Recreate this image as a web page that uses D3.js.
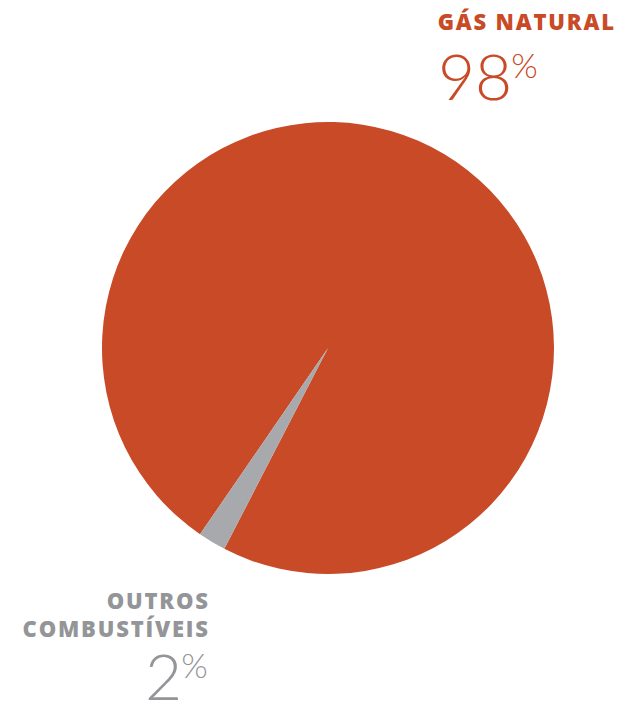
<!DOCTYPE html>
<html>
<head>
<meta charset="utf-8">
<script src="https://cdn.jsdelivr.net/npm/d3@7"></script>
<style>
  html, body { margin: 0; padding: 0; background: #fff; }
  svg { display: block; }
  .name { font-family: "Open Sans", Lato, sans-serif; font-weight: 800; font-size: 22px; letter-spacing: 1.8px; }
  .pct { font-family: Lato, "Open Sans", sans-serif; font-weight: 300; }
</style>
</head>
<body>
<svg id="chart" width="622" height="713"></svg>
<script>
// Fuel mix shares (percent)
const categories = ["GÁS NATURAL", "OUTROS COMBUSTÍVEIS"];
const shares = [98, 2];
const colors = ["#C94A26", "#A7A9AC"];
const textColors = ["#C94A26", "#939598"];

const svg = d3.select("#chart");
const cx = 328, cy = 348, radius = 226;

// Small slice sits lower-left; pie runs clockwise from its start
const start = 207.3 * Math.PI / 180;
const pie = d3.pie().sort(null)
  .startAngle(start - 2 * Math.PI * shares[0] / 100)
  .endAngle(start + 2 * Math.PI * shares[1] / 100);
const arc = d3.arc().innerRadius(0).outerRadius(radius);

const data = categories.map((c, i) => ({ name: c, value: shares[i], color: colors[i] }));

svg.append("g")
  .attr("transform", `translate(${cx},${cy})`)
  .selectAll("path")
  .data(pie.value(d => d.value)(data))
  .join("path")
  .attr("d", arc)
  .attr("fill", d => d.data.color);

// Labels (x offset compensates trailing letter-spacing)
function label(g, lines, value, color, x, y0, lineGap, numY, pctX) {
  lines.forEach((t, i) => {
    g.append("text").attr("class", "name")
      .attr("x", x + 1.8).attr("y", y0 + i * lineGap)
      .attr("text-anchor", "end").attr("fill", color).text(t);
  });
  const num = g.append("text").attr("class", "pct").attr("fill", color)
    .attr("x", pctX).attr("y", numY);
  num.append("tspan").attr("font-size", 64).text(value);
  num.append("tspan").attr("font-size", 34).attr("dy", -22).attr("dx", -1).text("%");
}

const gl = svg.append("g");
label(gl, [categories[0]], shares[0], textColors[0], 614, 30, 28, 100, 438);
label(gl, ["OUTROS", "COMBUSTÍVEIS"], shares[1], textColors[1], 208, 609, 28, 700, 145);
</script>
</body>
</html>
